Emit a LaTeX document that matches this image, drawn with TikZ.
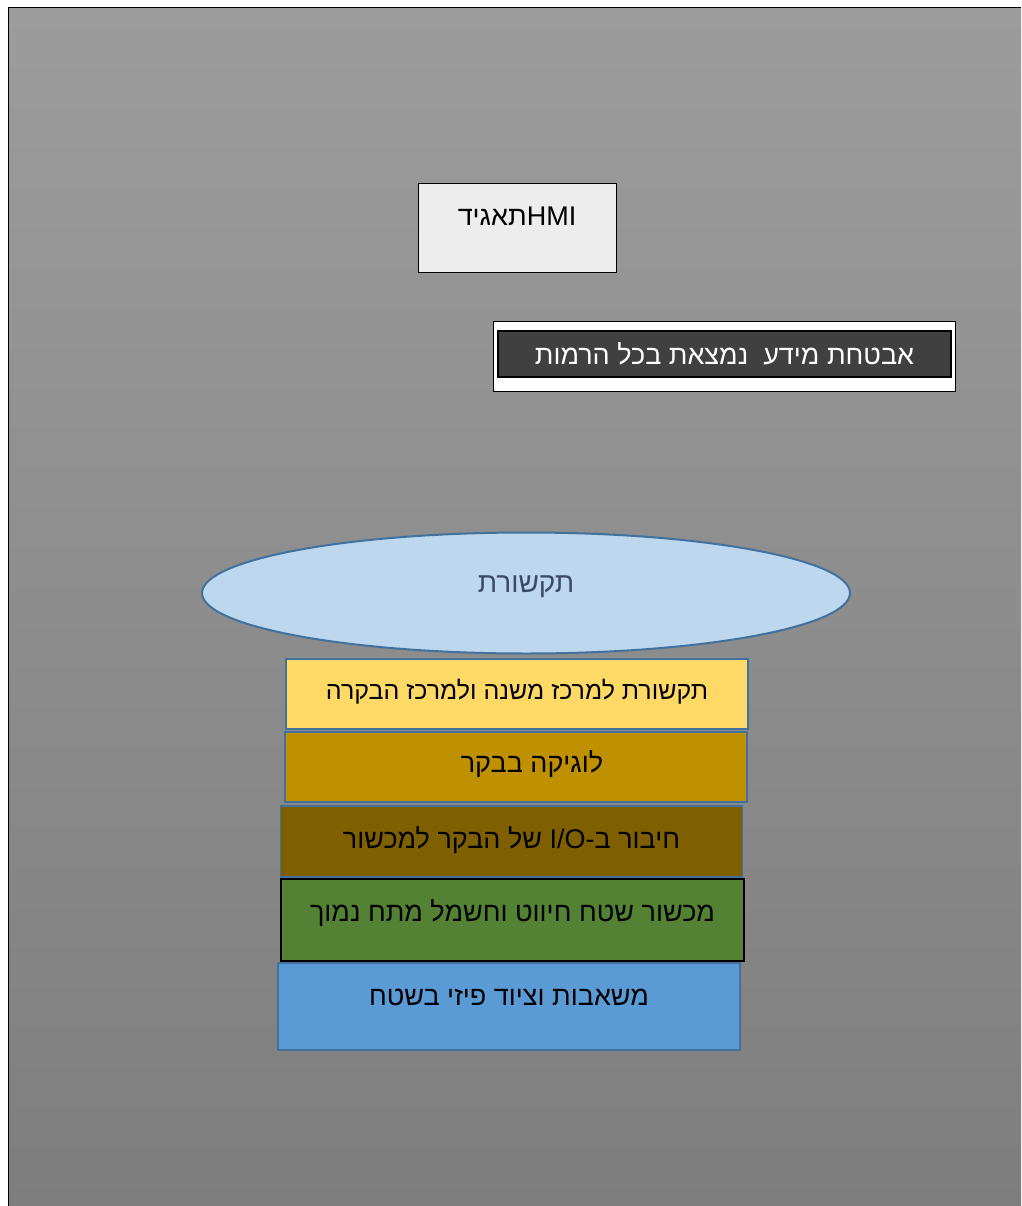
\documentclass[tikz,border=0pt]{standalone}
\usepackage{fontspec}
\setmainfont{Liberation Sans}
\newfontfamily\hebfont[Script=Hebrew]{Liberation Sans}
\TeXXeTstate=1
\usetikzlibrary{shapes.geometric}
\definecolor{bgtop}{RGB}{156,156,156}
\definecolor{bgbottom}{RGB}{126,126,126}
\definecolor{hmigray}{RGB}{237,237,237}
\definecolor{secdark}{RGB}{64,64,64}
\definecolor{commblue}{RGB}{189,215,238}
\definecolor{edgeblue}{RGB}{65,113,156}
\definecolor{commtext}{RGB}{59,74,100}
\definecolor{layerA}{RGB}{255,217,102}
\definecolor{layerB}{RGB}{191,144,0}
\definecolor{layerC}{RGB}{127,96,0}
\definecolor{layerD}{RGB}{84,130,53}
\definecolor{layerE}{RGB}{91,155,213}
\newcommand{\heb}[1]{\beginR #1\endR}

\begin{document}
\begin{tikzpicture}[x=1pt,y=-1pt,
  txt/.style={font=\hebfont\fontsize{27}{31}\selectfont},
  layer/.style={draw=edgeblue, line width=1.8pt, minimum width=462pt, txt}]
\useasboundingbox (0,0) rectangle (1021,1206);

% background
\shade[top color=bgtop, bottom color=bgbottom] (8,8) rectangle (1021,1206);
\draw[line width=1pt] (8,1206) |- (1021,8);

% top boxes
\node[draw, line width=1pt, fill=hmigray, minimum width=198pt, minimum height=88pt, txt]
  (hmi) at (517,228) {\raisebox{24pt}{\beginR\beginL HMI\endL תאגיד\endR}};
\node[draw, line width=0.8pt, fill=white, minimum width=462pt, minimum height=70pt]
  (secout) at (724,356) {};
\node[draw, line width=2pt, fill=secdark, minimum width=453pt, minimum height=46pt,
  text=white, txt] (sec) at (724.5,354) {\heb{אבטחת מידע\ \ נמצאת בכל הרמות}};

% communication cloud
\node[ellipse, draw=edgeblue, line width=2pt, fill=commblue, minimum width=648pt,
  minimum height=121pt, text=commtext, txt, font=\hebfont\fontsize{28}{32}\selectfont]
  (comm) at (526,593) {\raisebox{17pt}{\heb{תקשורת}}};

% layers
\node[layer, fill=layerA, minimum height=70pt, font=\hebfont\fontsize{25}{29}\selectfont]
  (center) at (517,694) {\raisebox{9pt}{\heb{תקשורת למרכז משנה ולמרכז הבקרה}}};
\node[layer, fill=layerB, minimum height=70pt] (logic) at (516,767)
  {\hspace*{32pt}\raisebox{11pt}{\heb{לוגיקה בבקר}}};
\node[layer, fill=layerC, minimum height=71pt] (io) at (511.5,841.5)
  {\raisebox{8pt}{\heb{חיבור ב-\beginL I/O\endL{} של הבקר למכשור}}};
\node[layer, draw=black, fill=layerD, minimum width=463pt, minimum height=82pt] (field) at (512.5,920)
  {\raisebox{18pt}{\heb{מכשור שטח חיווט וחשמל מתח נמוך}}};
\node[layer, fill=layerE, minimum height=87pt] (pumps) at (509,1006.5)
  {\raisebox{19pt}{\heb{משאבות וציוד פיזי בשטח}}};
\end{tikzpicture}
\end{document}
